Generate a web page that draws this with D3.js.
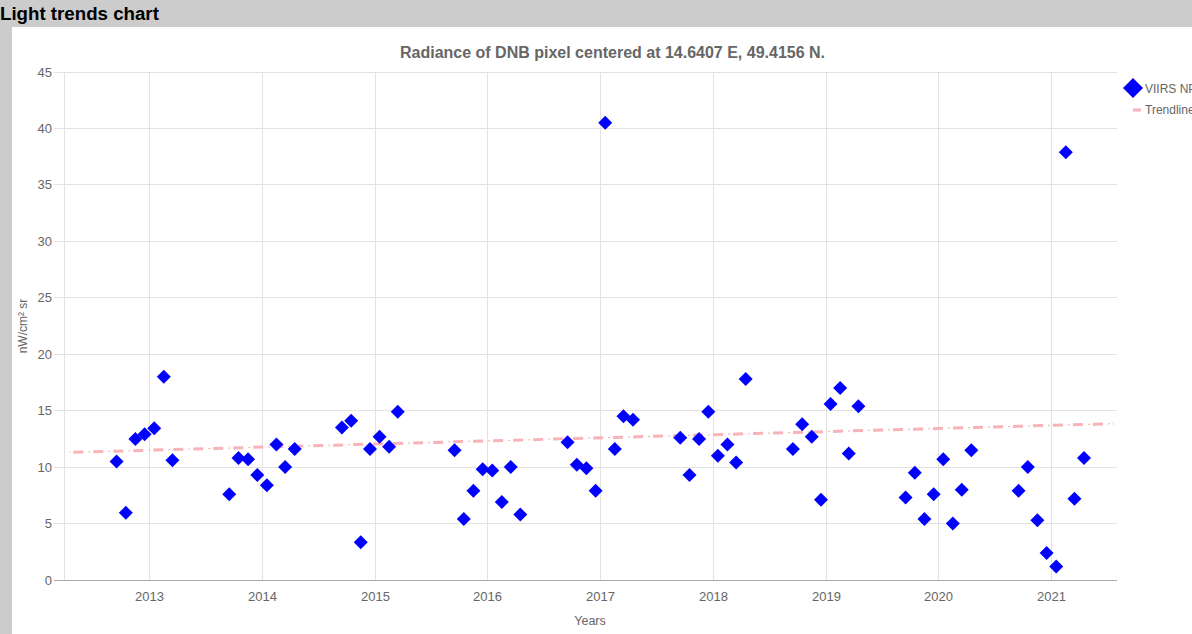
<!DOCTYPE html>
<html><head><meta charset="utf-8">
<script src="https://cdn.jsdelivr.net/npm/d3@7"></script>
<style>
html,body{margin:0;padding:0;background:#fff;overflow:hidden}
svg{display:block;font-family:"Liberation Sans",Arial,sans-serif}
</style></head><body>
<svg id="c" width="1192" height="634"></svg>
<script>
const seasons = [
  {start:"2012-09", values:[10.5,5.95,12.5,12.9,13.45,18,10.6]},
  {start:"2013-09", values:[7.6,10.8,10.7,9.3,8.4,12,10,11.6]},
  {start:"2014-09", values:[13.5,14.1,3.35,11.6,12.7,11.8,14.9]},
  {start:"2015-09", values:[11.5,5.4,7.9,9.8,9.7,6.9,10,5.8]},
  {start:"2016-09", values:[12.2,10.2,9.9,7.9,40.5,11.6,14.5,14.2]},
  {start:"2017-09", values:[12.6,9.3,12.5,14.9,11,12,10.4,17.8]},
  {start:"2018-09", values:[11.6,13.8,12.7,7.1,15.6,17,11.2,15.4]},
  {start:"2019-09", values:[7.3,9.5,5.4,7.6,10.7,5,8,11.5]},
  {start:"2020-09", values:[7.9,10,5.3,2.4,1.2,37.9,7.2,10.8]}
];
const trendDates = ["2012-04-15","2021-07-20"];
const trendValues = [11.3,13.85];
const yTicks = [0,5,10,15,20,25,30,35,40,45];
const xTicks = [2013,2014,2015,2016,2017,2018,2019,2020,2021];
const titleText = "Radiance of DNB pixel centered at 14.6407 E, 49.4156 N.";
const headerText = "Light trends chart";
const legendLabels = ["VIIRS NPP","Trendline"];

const points = seasons.flatMap(s=>{
  const [yr,mo]=s.start.split("-").map(Number);
  return s.values.map((v,i)=>({date:new Date(Date.UTC(yr,mo-1+i,15)),value:v}));
});

const L=64.5,R=1117,T=72,B=580;
const x0=149.9,x1=1051.9;
const x=d3.scaleUtc().domain([new Date(Date.UTC(2013,0,1)),new Date(Date.UTC(2021,0,1))]).range([x0,x1]);
const y=d3.scaleLinear().domain([0,45]).range([B,T]);
const svg=d3.select("#c");
svg.append("rect").attr("width",1192).attr("height",634).attr("fill","#ccc");
svg.append("rect").attr("x",12).attr("y",27).attr("width",1180).attr("height",607).attr("fill","#fff");
svg.append("text").attr("x",0).attr("y",20).attr("font-size",18.7).attr("font-weight","bold").attr("fill","#000").text(headerText);
svg.append("text").attr("x",612.5).attr("y",58).attr("text-anchor","middle").attr("font-size",16).attr("font-weight","bold").attr("fill","#666").text(titleText);

const grid="#e2e2e2";
const gy=svg.append("g");
yTicks.forEach(t=>{
  const p=Math.floor(y(t))+.5;
  gy.append("line").attr("x1",54).attr("x2",R).attr("y1",p).attr("y2",p).attr("stroke",t===0?"#aaa":grid);
  gy.append("text").attr("x",52).attr("y",p+4).attr("text-anchor","end").attr("font-size",13).attr("fill","#666").text(t);
});
const gx=svg.append("g");
gx.append("line").attr("x1",L).attr("x2",L).attr("y1",T).attr("y2",B).attr("stroke",grid);
xTicks.forEach(t=>{
  const p=Math.floor(x(new Date(Date.UTC(t,0,1))))+.5;
  gx.append("line").attr("x1",p).attr("x2",p).attr("y1",T).attr("y2",B).attr("stroke",grid);
  gx.append("text").attr("x",p).attr("y",601).attr("text-anchor","middle").attr("font-size",13).attr("fill","#666").text(t);
});
svg.append("text").attr("x",590).attr("y",625).attr("text-anchor","middle").attr("font-size",12.5).attr("fill","#666").text("Years");
svg.append("text").attr("transform","translate(27,326) rotate(-90)").attr("text-anchor","middle").attr("font-size",12).attr("fill","#666").text("nW/cm² sr");

const trend=trendDates.map((d,i)=>({date:new Date(d+"T00:00:00Z"),value:trendValues[i]}));
const trendPath=d3.line().x(d=>x(d.date)).y(d=>y(d.value))(trend);
svg.append("path").attr("d",trendPath)
  .attr("fill","none").attr("stroke","#f7b3b8").attr("stroke-width",3).attr("stroke-dasharray","10 10").attr("stroke-dashoffset",16);
svg.append("path").attr("d",trendPath)
  .attr("fill","none").attr("stroke","#f7b3b8").attr("stroke-width",1.2).attr("stroke-dasharray","2 18").attr("stroke-dashoffset",1);

const sym=d3.symbol().type(d3.symbolSquare).size(98);
svg.append("g").selectAll("path").data(points).join("path")
  .attr("d",sym).attr("fill","#0000ff")
  .attr("transform",d=>`translate(${x(d.date)},${y(d.value)}) rotate(45)`);

svg.append("path").attr("d",d3.symbol().type(d3.symbolSquare).size(200)())
  .attr("fill","#0000ff").attr("transform","translate(1133,88) rotate(45)");
svg.append("text").attr("x",1145).attr("y",92.5).attr("font-size",12).attr("fill","#666").text(legendLabels[0]);
svg.append("line").attr("x1",1133).attr("x2",1141).attr("y1",110).attr("y2",110).attr("stroke","#f7b3b8").attr("stroke-width",3);
svg.append("text").attr("x",1145).attr("y",114).attr("font-size",12).attr("fill","#666").text(legendLabels[1]);
</script></body></html>
